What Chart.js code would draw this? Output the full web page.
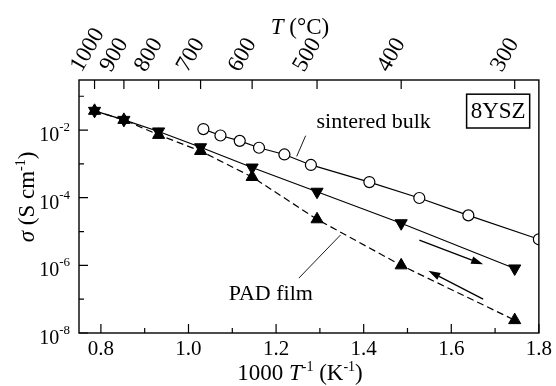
<!DOCTYPE html>
<html><head><meta charset="utf-8">
<script src="https://cdn.jsdelivr.net/npm/chart.js@4/dist/chart.umd.min.js"></script>
<style>html,body{margin:0;padding:0;background:#fff}#wrap{width:556px;height:386px}</style>
</head><body><div id="wrap"><canvas id="c" width="556" height="386"></canvas></div>
<script>
// ---- data ----
const tempC = [1000, 900, 800, 700, 600, 500, 400, 300];
const invT = [0.7855, 0.8525, 0.9318, 1.0276, 1.1453, 1.2935, 1.4856, 1.7448];
const padCooling = [3.7e-2, 2.0e-2, 9.1e-3, 3.1e-3, 7.8e-4, 1.5e-4, 1.76e-5, 8.1e-7];
const padHeating = [3.7e-2, 2.0e-2, 7.2e-3, 2.4e-3, 4.1e-4, 2.3e-5, 1.0e-6, 2.4e-8];
const bulkInvT = [1.034, 1.073, 1.117, 1.161, 1.219, 1.2795, 1.413, 1.527, 1.639, 1.80];
const bulkSigma = [1.07e-2, 6.9e-3, 4.8e-3, 3.0e-3, 1.9e-3, 9.3e-4, 2.9e-4, 9.8e-5, 3.0e-5, 5.9e-6];
const xTickValues = [0.8, 1.0, 1.2, 1.4, 1.6, 1.8];
const xMinorValues = [0.9, 1.1, 1.3, 1.5, 1.7];
const yTickExponents = [-8, -6, -4, -2];
const yMinorExponents = [-7, -5, -3, -1];
// annotations (data coordinates: 1000/T, sigma)
const arrowCooling = [[1.527, 5.6e-6], [1.6727, 1.07e-6]];
const arrowHeating = [[1.6727, 1.0e-7], [1.5477, 6.9e-7]];
const leaderBulk = [[1.2675, 6.8e-3], [1.247, 1.66e-3]];
const leaderPad = [[1.347, 7.9e-6], [1.252, 4.2e-7]];
const labelBulk = ['sintered bulk', 1.4227, 1.14e-2];
const labelPad = ['PAD film', 1.188, 9.5e-8];
const boxLabel = ['8YSZ', 1.635, 1.779, 0.115, 0.0115];

const FONT = "'Liberation Serif', 'Times New Roman', serif";
const pts = (xs, ys) => xs.map((x, i) => ({x, y: ys[i]}));

function drawParts(ctx, parts, cx, base, size, align) {
  const supSize = Math.round(size * 0.6);
  const fontOf = p => (p.it ? 'italic ' : '') + (p.sup ? supSize : size) + 'px ' + FONT;
  let total = 0;
  parts.forEach(p => { ctx.font = fontOf(p); p.w = ctx.measureText(p.t).width; total += p.w; });
  let x = align === 'left' ? cx : cx - total / 2;
  ctx.textAlign = 'left'; ctx.textBaseline = 'alphabetic';
  parts.forEach(p => {
    ctx.font = fontOf(p);
    ctx.fillText(p.t, x, p.sup ? base - size * 0.4 : base);
    x += p.w;
  });
}

const decor = {
  id: 'decor',
  afterDraw(chart) {
    const {ctx, chartArea: a, scales} = chart;
    const xs = scales.x, ys = scales.y, xt = scales.x2;
    const P = ([x, y]) => [xs.getPixelForValue(x), ys.getPixelForValue(y)];
    ctx.save();
    ctx.strokeStyle = '#000'; ctx.fillStyle = '#000';
    // frame
    ctx.lineWidth = 1.4;
    ctx.strokeRect(a.left, a.top, a.right - a.left, a.bottom - a.top);
    // ticks (inward)
    ctx.lineWidth = 1.2;
    ctx.beginPath();
    xTickValues.forEach(v => { const p = xs.getPixelForValue(v); ctx.moveTo(p, a.bottom); ctx.lineTo(p, a.bottom - 9); });
    xMinorValues.forEach(v => { const p = xs.getPixelForValue(v); ctx.moveTo(p, a.bottom); ctx.lineTo(p, a.bottom - 5); });
    yTickExponents.forEach(e => { const p = ys.getPixelForValue(Math.pow(10, e)); ctx.moveTo(a.left, p); ctx.lineTo(a.left + 9, p); });
    yMinorExponents.forEach(e => { const p = ys.getPixelForValue(Math.pow(10, e)); ctx.moveTo(a.left, p); ctx.lineTo(a.left + 5, p); });
    xt.ticks.forEach(t => { const p = xt.getPixelForValue(t.value); ctx.moveTo(p, a.top); ctx.lineTo(p, a.top + 9); });
    ctx.stroke();
    // y tick labels 10^n
    yTickExponents.forEach(e => {
      const p = ys.getPixelForValue(Math.pow(10, e));
      const sup = '-' + Math.abs(e);
      ctx.font = '13px ' + FONT; const sw = ctx.measureText(sup).width;
      const right = a.left - 9;
      ctx.textBaseline = 'alphabetic';
      ctx.font = '20px ' + FONT; ctx.textAlign = 'right';
      ctx.fillText('10', right - sw, p + 11);
      ctx.font = '13px ' + FONT; ctx.textAlign = 'left';
      ctx.fillText(sup, right - sw, p + 1);
    });
    // top tick labels (temperature, rotated)
    ctx.font = '23px ' + FONT; ctx.textAlign = 'left'; ctx.textBaseline = 'alphabetic';
    xt.ticks.forEach((t, i) => {
      const p = xt.getPixelForValue(t.value);
      ctx.save();
      ctx.translate(p - 13, a.top - 7);
      ctx.rotate(-Math.PI / 3);
      ctx.fillText(String(tempC[i]), 0, 0);
      ctx.restore();
    });
    // axis titles
    drawParts(ctx, [{t: 'T', it: true}, {t: ' (°C)'}], 300, 34, 23);
    drawParts(ctx, [{t: '1000 '}, {t: 'T', it: true}, {t: '-1', sup: true}, {t: ' (K'}, {t: '-1', sup: true}, {t: ')'}], 300, 380, 23);
    ctx.save();
    ctx.translate(34, 197); ctx.rotate(-Math.PI / 2);
    drawParts(ctx, [{t: 'σ', it: true}, {t: ' (S cm'}, {t: '-1', sup: true}, {t: ')'}], 0, 0, 23);
    ctx.restore();
    // leader lines
    ctx.lineWidth = 0.9;
    [leaderBulk, leaderPad].forEach(l => {
      const [x1, y1] = P(l[0]), [x2, y2] = P(l[1]);
      ctx.beginPath(); ctx.moveTo(x1, y1); ctx.lineTo(x2, y2); ctx.stroke();
    });
    // arrows
    ctx.lineWidth = 1.3;
    [arrowCooling, arrowHeating].forEach(l => {
      const [x1, y1] = P(l[0]), [x2, y2] = P(l[1]);
      const ang = Math.atan2(y2 - y1, x2 - x1);
      const L = 12, W = 3.8;
      const bx = x2 - L * Math.cos(ang), by = y2 - L * Math.sin(ang);
      ctx.beginPath(); ctx.moveTo(x1, y1); ctx.lineTo(bx, by); ctx.stroke();
      ctx.beginPath();
      ctx.moveTo(x2, y2);
      ctx.lineTo(bx + W * Math.sin(ang), by - W * Math.cos(ang));
      ctx.lineTo(bx - W * Math.sin(ang), by + W * Math.cos(ang));
      ctx.closePath(); ctx.fill();
    });
    // text labels
    ctx.font = '22px ' + FONT; ctx.textAlign = 'center'; ctx.textBaseline = 'alphabetic';
    [labelBulk, labelPad].forEach(([t, x, y]) => { const [px, py] = P([x, y]); ctx.fillText(t, px, py); });
    // 8YSZ box
    const [bx1, by1] = P([boxLabel[1], boxLabel[3]]), [bx2, by2] = P([boxLabel[2], boxLabel[4]]);
    ctx.lineWidth = 1.5;
    ctx.strokeRect(bx1, by1, bx2 - bx1, by2 - by1);
    ctx.font = '23px ' + FONT; ctx.textAlign = 'center'; ctx.textBaseline = 'middle';
    ctx.fillText(boxLabel[0], (bx1 + bx2) / 2, (by1 + by2) / 2 + 1);
    ctx.restore();
  }
};

new Chart(document.getElementById('c'), {
  type: 'scatter',
  data: {
    datasets: [
      {label: 'PAD film (cooling)', data: pts(invT, padCooling), showLine: true,
       borderColor: '#000', borderWidth: 1.2, pointStyle: 'triangle', rotation: 180,
       pointRadius: 7, pointBackgroundColor: '#000', pointBorderColor: '#000', pointBorderWidth: 1},
      {label: 'PAD film (heating)', data: pts(invT, padHeating), showLine: true,
       borderColor: '#000', borderWidth: 1.2, borderDash: [7, 4], pointStyle: 'triangle', rotation: 0,
       pointRadius: 7, pointBackgroundColor: '#000', pointBorderColor: '#000', pointBorderWidth: 1},
      {label: 'sintered bulk', data: pts(bulkInvT, bulkSigma), showLine: true,
       borderColor: '#000', borderWidth: 1.2, pointStyle: 'circle',
       pointRadius: 5.5, pointBackgroundColor: '#fff', pointBorderColor: '#000', pointBorderWidth: 1.2}
    ]
  },
  options: {
    responsive: false, animation: false, devicePixelRatio: 1,
    layout: {padding: {right: 16}},
    plugins: {legend: {display: false}, tooltip: {enabled: false}},
    scales: {
      x: {type: 'linear', position: 'bottom', min: 0.75, max: 1.8,
          afterBuildTicks: s => { s.ticks = xTickValues.map(v => ({value: v})); },
          afterFit: s => { s.height = 53; },
          ticks: {callback: v => Number(v).toFixed(1), font: {family: FONT, size: 21}, color: '#000', padding: 4, autoSkip: false, maxRotation: 0},
          grid: {display: false, drawTicks: false}, border: {display: false}},
      x2: {type: 'linear', position: 'top', min: 0.75, max: 1.8,
          afterBuildTicks: s => { s.ticks = invT.map(v => ({value: v})); },
          afterFit: s => { s.height = 80; },
          ticks: {display: false},
          grid: {display: false, drawTicks: false}, border: {display: false}},
      y: {type: 'logarithmic', position: 'left', min: 1e-8, max: Math.pow(10, -0.52),
          afterFit: s => { s.width = 79; },
          ticks: {display: false},
          grid: {display: false, drawTicks: false}, border: {display: false}}
    }
  },
  plugins: [decor]
});
</script></body></html>
